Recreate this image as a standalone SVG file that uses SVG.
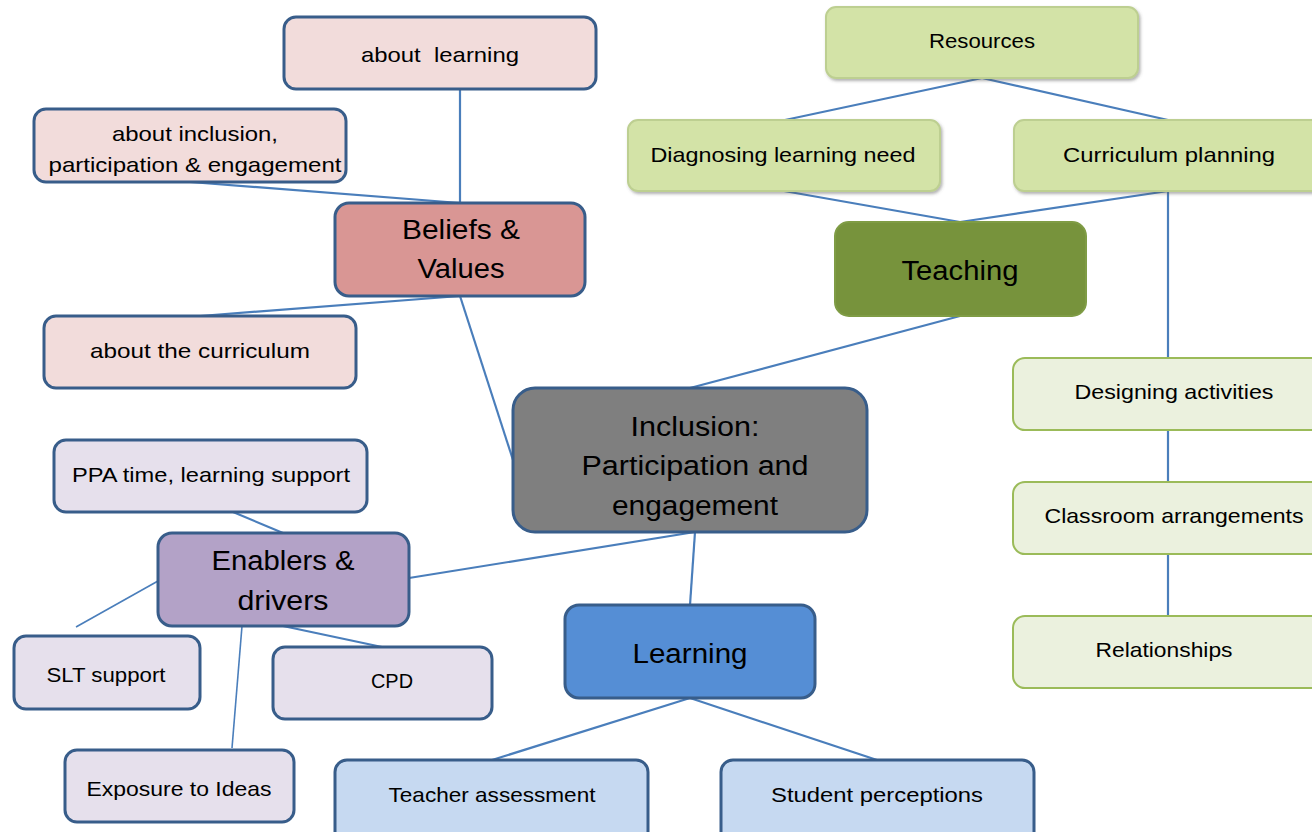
<svg xmlns="http://www.w3.org/2000/svg" width="1312" height="832" viewBox="0 0 1312 832">
<defs>
<filter id="sh" x="-10%" y="-20%" width="130%" height="150%">
<feDropShadow dx="1.5" dy="2" stdDeviation="1.5" flood-color="#555" flood-opacity="0.45"/>
</filter>
<style>
rect{stroke-width:3}
.blue{stroke:#385d8a}
.pink{fill:#f2dcdb}
.bel{fill:#d99694}
.res{fill:#d3e3a7;stroke:#bdcf91;stroke-width:2}
.teach{fill:#77933c;stroke:#7f9c45;stroke-width:2}
.inc{fill:#7f7f7f}
.lg{fill:#ebf1de;stroke:#9bbb59;stroke-width:2}
.lav{fill:#e6e0ec}
.en{fill:#b3a2c7}
.learn{fill:#558ed5}
.lb{fill:#c6d9f1}
text{font-family:"Liberation Sans",Arial,sans-serif;fill:#000;text-anchor:middle;dominant-baseline:central;font-size:21px}
.big{font-size:27px}
#connectors line{stroke:#4a7ebb;stroke-width:2.2}
</style>
</defs>
<g id="connectors">
<line x1="460" y1="89" x2="460" y2="203"/>
<line x1="190" y1="182" x2="460" y2="203"/>
<line x1="460" y1="296" x2="200" y2="316"/>
<line x1="460" y1="296" x2="513" y2="460"/>
<line x1="982" y1="78" x2="785" y2="120"/>
<line x1="982" y1="78" x2="1168" y2="120"/>
<line x1="784" y1="191" x2="960" y2="222"/>
<line x1="1168" y1="191" x2="960" y2="222"/>
<line x1="1168" y1="191" x2="1168" y2="358"/>
<line x1="1168" y1="430" x2="1168" y2="482"/>
<line x1="1168" y1="554" x2="1168" y2="616"/>
<line x1="960" y1="316" x2="690" y2="388"/>
<line x1="695" y1="532" x2="409" y2="578"/>
<line x1="695" y1="532" x2="690" y2="605"/>
<line x1="690" y1="698" x2="492" y2="760"/>
<line x1="690" y1="698" x2="877" y2="760"/>
<line x1="233" y1="512" x2="283" y2="533"/>
<line x1="158" y1="581" x2="76" y2="627" style="stroke-width:1.6"/>
<line x1="283" y1="626" x2="382" y2="647"/>
<line x1="242" y1="626" x2="232" y2="748" style="stroke-width:1.6"/>
</g>
<g id="about-learning"><rect class="pink blue" x="284" y="17" width="312" height="72" rx="12"/><text x="440" y="54" textLength="158" lengthAdjust="spacingAndGlyphs" xml:space="preserve">about  learning</text></g>
<g id="about-inclusion"><rect class="pink blue" x="34" y="109" width="312" height="73" rx="12"/><text x="195" y="133" textLength="166" lengthAdjust="spacingAndGlyphs">about inclusion,</text><text x="195" y="164" textLength="293" lengthAdjust="spacingAndGlyphs">participation &amp; engagement</text></g>
<g id="beliefs"><rect class="bel blue" x="335" y="203" width="250" height="93" rx="14"/><text class="big" x="461" y="230" textLength="118" lengthAdjust="spacingAndGlyphs">Beliefs &amp;</text><text class="big" x="461" y="269" textLength="87" lengthAdjust="spacingAndGlyphs">Values</text></g>
<g id="about-curriculum"><rect class="pink blue" x="44" y="316" width="312" height="72" rx="12"/><text x="200" y="350" textLength="220" lengthAdjust="spacingAndGlyphs">about the curriculum</text></g>
<g id="resources"><rect class="res" x="826" y="7" width="312" height="71" rx="10" filter="url(#sh)"/><text x="982" y="40" textLength="106" lengthAdjust="spacingAndGlyphs">Resources</text></g>
<g id="diagnosing"><rect class="res" x="628" y="120" width="312" height="71" rx="10" filter="url(#sh)"/><text x="783" y="154" textLength="265" lengthAdjust="spacingAndGlyphs">Diagnosing learning need</text></g>
<g id="curriculum-planning"><rect class="res" x="1014" y="120" width="320" height="71" rx="10" filter="url(#sh)"/><text x="1169" y="154" textLength="212" lengthAdjust="spacingAndGlyphs">Curriculum planning</text></g>
<g id="teaching"><rect class="teach" x="835" y="222" width="251" height="94" rx="14"/><text class="big" x="960" y="271" textLength="117" lengthAdjust="spacingAndGlyphs">Teaching</text></g>
<g id="designing"><rect class="lg" x="1013" y="358" width="320" height="72" rx="12"/><text x="1174" y="391" textLength="199" lengthAdjust="spacingAndGlyphs">Designing activities</text></g>
<g id="classroom"><rect class="lg" x="1013" y="482" width="320" height="72" rx="12"/><text x="1174" y="515" textLength="259" lengthAdjust="spacingAndGlyphs">Classroom arrangements</text></g>
<g id="relationships"><rect class="lg" x="1013" y="616" width="320" height="72" rx="12"/><text x="1164" y="649" textLength="137" lengthAdjust="spacingAndGlyphs">Relationships</text></g>
<g id="inclusion"><rect class="inc blue" x="513" y="388" width="354" height="144" rx="22"/><text class="big" x="695" y="427" textLength="129" lengthAdjust="spacingAndGlyphs">Inclusion:</text><text class="big" x="695" y="466" textLength="227" lengthAdjust="spacingAndGlyphs">Participation and</text><text class="big" x="695" y="506" textLength="166" lengthAdjust="spacingAndGlyphs">engagement</text></g>
<g id="ppa"><rect class="lav blue" x="54" y="440" width="313" height="72" rx="12"/><text x="211" y="474" textLength="278" lengthAdjust="spacingAndGlyphs">PPA time, learning support</text></g>
<g id="enablers"><rect class="en blue" x="158" y="533" width="251" height="93" rx="14"/><text class="big" x="283" y="561" textLength="143" lengthAdjust="spacingAndGlyphs">Enablers &amp;</text><text class="big" x="283" y="601" textLength="91" lengthAdjust="spacingAndGlyphs">drivers</text></g>
<g id="slt"><rect class="lav blue" x="14" y="636" width="186" height="73" rx="12"/><text x="106" y="674" textLength="119" lengthAdjust="spacingAndGlyphs">SLT support</text></g>
<g id="cpd"><rect class="lav blue" x="273" y="647" width="219" height="72" rx="12"/><text x="392" y="680" textLength="42" lengthAdjust="spacingAndGlyphs">CPD</text></g>
<g id="exposure"><rect class="lav blue" x="65" y="750" width="229" height="72" rx="12"/><text x="179" y="788" textLength="185" lengthAdjust="spacingAndGlyphs">Exposure to Ideas</text></g>
<g id="learning"><rect class="learn blue" x="565" y="605" width="250" height="93" rx="14"/><text class="big" x="690" y="654" textLength="115" lengthAdjust="spacingAndGlyphs">Learning</text></g>
<g id="teacher-assessment"><rect class="lb blue" x="335" y="760" width="313" height="85" rx="12"/><text x="492" y="794" textLength="207" lengthAdjust="spacingAndGlyphs">Teacher assessment</text></g>
<g id="student-perceptions"><rect class="lb blue" x="721" y="760" width="313" height="85" rx="12"/><text x="877" y="794" textLength="212" lengthAdjust="spacingAndGlyphs">Student perceptions</text></g>
</svg>
